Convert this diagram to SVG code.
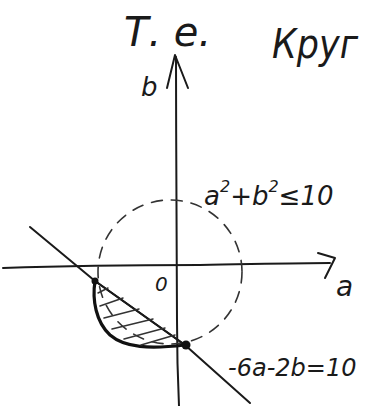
<svg xmlns="http://www.w3.org/2000/svg" width="371" height="406" viewBox="0 0 371 406">
<style>
.ink{fill:none;stroke:#1a1a1a;stroke-width:2;stroke-linecap:round;stroke-linejoin:round}
.bold{fill:none;stroke:#111;stroke-width:3.2;stroke-linecap:round;stroke-linejoin:round}
.dash{fill:none;stroke:#333;stroke-width:1.6;stroke-dasharray:11 9;stroke-linecap:round}
.hatch{fill:none;stroke:#333;stroke-width:1.5;stroke-linecap:round}
.t{font-family:"DejaVu Sans","Liberation Sans",sans-serif;font-style:italic;fill:#1a1a1a}
</style>
<rect width="371" height="406" fill="#fff"/>
<g id="title">
<text class="t" x="124" y="46" font-size="40">Т. е.</text>
<text class="t" x="272" y="58" font-size="40" textLength="86" lengthAdjust="spacingAndGlyphs">Круг</text>
</g>
<g id="connectors">
<g id="b-axis">
<path class="ink" d="M176,57 C176,150 177,260 177,320 C177,360 178,385 179,406"/>
<path class="ink" d="M167,88 L175,55 L188,88"/>
</g>
<g id="a-axis">
<path class="ink" d="M3,268 C60,266 150,265 200,265 C260,264 300,263 330,263"/>
<path class="ink" d="M318,253 L335,258 L325,278"/>
</g>
<g id="circle">
<circle class="dash" cx="170" cy="272" r="72"/>
</g>
<g id="line">
<path class="ink" d="M30,227 L95,281 Q140,313 185,345 L250,403"/>
</g>
</g>
<g id="region">
<path class="bold" d="M95,281 C92,300 96,322 110,335 C125,348 150,349 185,345"/>
<path class="ink" d="M95,281 Q140,313 185,345" stroke-width="2.6"/>
<g class="hatch">
<path d="M98,293 L108,288"/>
<path d="M100,306 L123,298"/>
<path d="M104,318 L139,309"/>
<path d="M112,329 L153,319"/>
<path d="M124,339 L165,328"/>
<path d="M141,345 L175,335"/>
</g>
<circle cx="95" cy="281" r="3.5" fill="#111"/>
<circle cx="186" cy="345" r="4.5" fill="#111"/>
</g>
<g id="labels">
<text class="t" x="141" y="96" font-size="26">b</text>
<text class="t" x="336" y="296" font-size="28">a</text>
<text class="t" x="155" y="291" font-size="20">0</text>
<text class="t" x="204" y="205" font-size="26">a<tspan dy="-13" font-size="16">2</tspan><tspan dy="13">+b</tspan><tspan dy="-13" font-size="16">2</tspan><tspan dy="13">≤10</tspan></text>
<text class="t" x="228" y="376" font-size="24">-6a-2b=10</text>
</g>
</svg>
